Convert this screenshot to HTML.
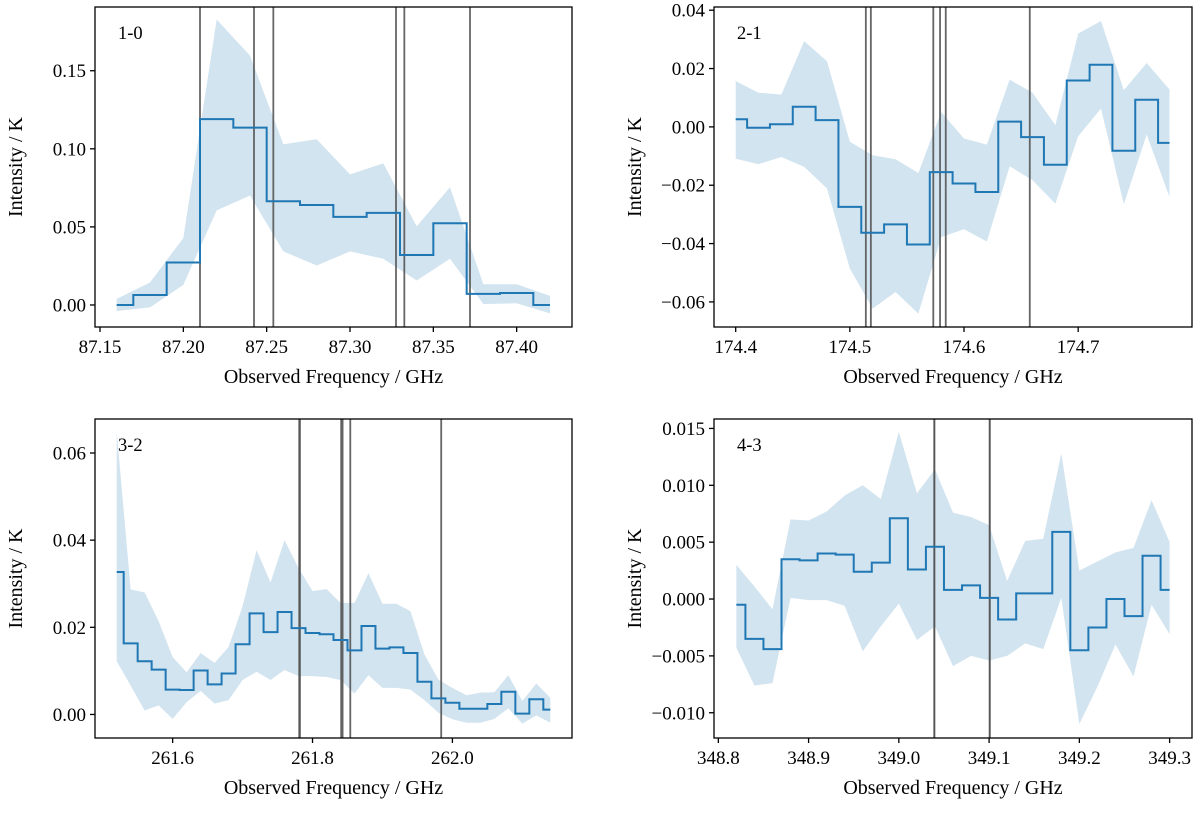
<!DOCTYPE html>
<html><head><meta charset="utf-8"><style>
html,body{margin:0;padding:0;background:#fff;}
svg text{font-family:"Liberation Serif",serif;fill:#000;}
</style></head><body>
<svg id="fig" width="1200" height="810" viewBox="0 0 1200 810" xmlns="http://www.w3.org/2000/svg"></svg>
<script>
// ---- Panel 1 (1-0) ----
const freq1 = [87.16,87.18,87.20,87.22,87.24,87.26,87.28,87.30,87.32,87.34,87.36,87.38,87.40,87.42];
const int1 = [0.000,0.0064,0.0272,0.119,0.1136,0.0664,0.064,0.0564,0.059,0.032,0.0523,0.0071,0.0077,0.0];
const up1 = [0.0039,0.0144,0.0429,0.1828,0.1597,0.1029,0.1061,0.0836,0.0907,0.0503,0.0754,0.0133,0.0133,0.0058];
const lo1 = [-0.0039,-0.0015,0.0129,0.0606,0.0701,0.0343,0.0253,0.0343,0.0296,0.0157,0.0296,0.0006,0.0011,-0.0054];
const lines1 = [87.21,87.2424,87.254,87.3276,87.3326,87.372];
const xt1 = [87.15,87.20,87.25,87.30,87.35,87.40];
const xtl1 = ["87.15","87.20","87.25","87.30","87.35","87.40"];
const yt1 = [0,0.05,0.10,0.15];
const ytl1 = ["0.00","0.05","0.10","0.15"];
// ---- Panel 2 (2-1) ----
const freq2 = [174.40,174.42,174.44,174.46,174.48,174.50,174.52,174.54,174.56,174.58,174.60,174.62,174.64,174.66,174.68,174.70,174.72,174.74,174.76,174.78];
const int2 = [0.0026,-0.0003,0.0009,0.0069,0.0023,-0.0274,-0.0363,-0.0334,-0.0403,-0.0155,-0.0194,-0.0223,0.0018,-0.0035,-0.0130,0.0159,0.0213,-0.0082,0.0093,-0.0055];
const up2 = [0.0157,0.0117,0.0111,0.0294,0.0225,-0.0051,-0.0097,-0.0111,-0.0158,0.0051,-0.0040,-0.0061,0.0162,0.0117,0.0006,0.0320,0.0363,0.0126,0.0219,0.0128];
const lo2 = [-0.0109,-0.0128,-0.0103,-0.0137,-0.0211,-0.0486,-0.0623,-0.0566,-0.0640,-0.0378,-0.0351,-0.0393,-0.0135,-0.0183,-0.0263,-0.0032,0.0063,-0.0265,-0.0026,-0.0240];
const lines2 = [174.514,174.5184,174.5731,174.579,174.584,174.6576];
const xt2 = [174.4,174.5,174.6,174.7];
const xtl2 = ["174.4","174.5","174.6","174.7"];
const yt2 = [0.04,0.02,0,-0.02,-0.04,-0.06];
const ytl2 = ["0.04","0.02","0.00","\u22120.02","\u22120.04","\u22120.06"];
// ---- Panel 3 (3-2) ----
const freq3 = [261.52,261.54,261.56,261.58,261.60,261.62,261.64,261.66,261.68,261.70,261.72,261.74,261.76,261.78,261.80,261.82,261.84,261.86,261.88,261.90,261.92,261.94,261.96,261.98,262.00,262.02,262.04,262.06,262.08,262.10,262.12,262.14];
const int3 = [0.0327,0.0163,0.0122,0.0103,0.0057,0.0056,0.0101,0.0069,0.0094,0.0161,0.0232,0.0189,0.0235,0.0198,0.0187,0.0184,0.0171,0.0147,0.0203,0.0151,0.0154,0.0141,0.0075,0.0037,0.0027,0.0013,0.0013,0.0024,0.0052,0.0002,0.0035,0.0011];
const up3 = [0.0650,0.0287,0.0280,0.0214,0.0132,0.0097,0.0141,0.0118,0.0155,0.0248,0.0377,0.0303,0.0400,0.0336,0.0283,0.0288,0.0256,0.0256,0.0324,0.0254,0.0254,0.0237,0.0138,0.0080,0.0061,0.0044,0.0050,0.0051,0.0090,0.0031,0.0071,0.0038];
const lo3 = [0.0122,0.0066,0.0009,0.0021,-0.0010,0.0028,0.0054,0.0025,0.0033,0.0079,0.0098,0.0079,0.0102,0.0088,0.0088,0.0086,0.0079,0.0048,0.0090,0.0061,0.0061,0.0057,0.0033,0.0004,-0.0011,-0.0019,-0.0019,-0.0010,0.0014,-0.0021,-0.0002,-0.0019];
const lines3 = [261.781,261.782,261.841,261.843,261.854,261.984];
const xt3 = [261.6,261.8,262.0];
const xtl3 = ["261.6","261.8","262.0"];
const yt3 = [0,0.02,0.04,0.06];
const ytl3 = ["0.00","0.02","0.04","0.06"];
// ---- Panel 4 (4-3) ----
const freq4 = [348.82,348.84,348.86,348.88,348.90,348.92,348.94,348.96,348.98,349.00,349.02,349.04,349.06,349.08,349.10,349.12,349.14,349.16,349.18,349.20,349.22,349.24,349.26,349.28,349.30];
const int4 = [-0.0005,-0.0035,-0.0044,0.0035,0.0034,0.0040,0.0039,0.0024,0.0032,0.0071,0.0026,0.0046,0.0008,0.0012,0.0001,-0.0018,0.0005,0.0005,0.0059,-0.0045,-0.0025,0.0000,-0.0015,0.0038,0.0008];
const up4 = [0.0030,0.0011,-0.0009,0.0070,0.0069,0.0077,0.0091,0.0100,0.0088,0.0147,0.0093,0.0114,0.0076,0.0072,0.0065,0.0016,0.0051,0.0053,0.0128,0.0025,0.0033,0.0041,0.0045,0.0087,0.0050];
const lo4 = [-0.0043,-0.0076,-0.0074,0.0001,-0.0001,-0.0001,-0.0006,-0.0046,-0.0024,-0.0004,-0.0036,-0.0024,-0.0059,-0.0050,-0.0054,-0.0050,-0.0039,-0.0044,0.0001,-0.0110,-0.0077,-0.0040,-0.0068,-0.0005,-0.0031];
const lines4 = [349.0393,349.0393,349.1007,349.1007];
const xt4 = [348.8,348.9,349.0,349.1,349.2,349.3];
const xtl4 = ["348.8","348.9","349.0","349.1","349.2","349.3"];
const yt4 = [-0.010,-0.005,0,0.005,0.010,0.015];
const ytl4 = ["\u22120.010","\u22120.005","0.000","0.005","0.010","0.015"];

const NS = "http://www.w3.org/2000/svg";
const svg = document.getElementById("fig");
function mk(tag, attrs, parent){
  const e = document.createElementNS(NS, tag);
  for (const k in attrs) e.setAttribute(k, attrs[k]);
  (parent||svg).appendChild(e);
  return e;
}
function panel(p){
  const g = mk("g", {});
  
  
  const sx = f => p.L + (f - p.x0) / (p.x1 - p.x0) * (p.R - p.L);
  const sy = v => p.B - (v - p.y0) / (p.y1 - p.y0) * (p.B - p.T);
  let d = "";
  p.fx.forEach((f,i)=>{ d += (i?"L":"M") + sx(f).toFixed(2) + "," + sy(p.up[i]).toFixed(2); });
  for (let i=p.fx.length-1;i>=0;i--) d += "L" + sx(p.fx[i]).toFixed(2) + "," + sy(p.lo[i]).toFixed(2);
  const band = mk("path", {d: d+"Z", fill:"#1f77b4", "fill-opacity":"0.2", stroke:"none"}, g);
  
  
  p.lines.forEach(f=>{
    const l = mk("line", {x1:sx(f), x2:sx(f), y1:p.T, y2:p.B, stroke:"#555", "stroke-width":"1.8", "stroke-opacity":"0.9"}, g);
    
    
  });
  const n = p.fx.length;
  let s = "";
  for (let i=0;i<n;i++){
    const xa = i===0 ? sx(p.fx[0]) : (sx(p.fx[i-1])+sx(p.fx[i]))/2;
    const xb = i===n-1 ? sx(p.fx[n-1]) : (sx(p.fx[i])+sx(p.fx[i+1]))/2;
    const y = sy(p.val[i]);
    s += (i?"L":"M") + xa.toFixed(2) + "," + y.toFixed(2) + "L" + xb.toFixed(2) + "," + y.toFixed(2);
  }
  const st = mk("path", {d:s, fill:"none", stroke:"#1f77b4", "stroke-width":"2"}, g);
  
  
  const fr = mk("rect", {x:p.L, y:p.T, width:p.R-p.L, height:p.B-p.T, fill:"none", stroke:"#000", "stroke-width":"1.3"}, g);
  
  
  p.xt.forEach((f,i)=>{
    const x = sx(f);
    mk("line", {x1:x,x2:x,y1:p.B,y2:p.B+5,stroke:"#000","stroke-width":"1.3"}, g);
    const t = mk("text", {x:x, y:p.B+26, "text-anchor":"middle", "font-size":"19"}, g);
    t.textContent = p.xtl[i];
    
    
  });
  p.yt.forEach((v,i)=>{
    const y = sy(v);
    mk("line", {x1:p.L-5,x2:p.L,y1:y,y2:y,stroke:"#000","stroke-width":"1.3"}, g);
    const t = mk("text", {x:p.L-9, y:y+6.5, "text-anchor":"end", "font-size":"19"}, g);
    t.textContent = p.ytl[i];
    
    
  });
  const xl = mk("text", {x:(p.L+p.R)/2, y:p.B+56, "text-anchor":"middle", "font-size":"20"}, g);
  xl.textContent = "Observed Frequency / GHz";
  
  
  const yx = p.L - 73, yy = (p.T+p.B)/2;
  const yl = mk("text", {x:yx, y:yy, "text-anchor":"middle", "font-size":"20", transform:"rotate(-90 "+yx+" "+yy+")"}, g);
  yl.textContent = "Intensity / K";
  
  
  const tt = mk("text", {x:p.L+23, y:p.T+32, "font-size":"18.5"}, g);
  tt.textContent = p.id;
  
  
}
panel({id:"1-0", L:95,R:572,T:7,B:327, x0:87.147,x1:87.4332,y0:-0.0141,y1:0.1908,
  fx:freq1,val:int1,up:up1,lo:lo1,lines:lines1,xt:xt1,xtl:xtl1,yt:yt1,ytl:ytl1});
panel({id:"2-1", L:714,R:1192,T:7,B:327, x0:174.381,x1:174.7997,y0:-0.0686,y1:0.0411,
  fx:freq2,val:int2,up:up2,lo:lo2,lines:lines2,xt:xt2,xtl:xtl2,yt:yt2,ytl:ytl2});
panel({id:"3-2", L:95,R:572,T:419,B:738, x0:261.489,x1:262.171,y0:-0.0054,y1:0.0678,
  fx:freq3,val:int3,up:up3,lo:lo3,lines:lines3,xt:xt3,xtl:xtl3,yt:yt3,ytl:ytl3});
panel({id:"4-3", L:714,R:1192,T:419,B:738, x0:348.7952,x1:349.3248,y0:-0.01222,y1:0.01583,
  fx:freq4,val:int4,up:up4,lo:lo4,lines:lines4,xt:xt4,xtl:xtl4,yt:yt4,ytl:ytl4});
</script>
</body></html>
